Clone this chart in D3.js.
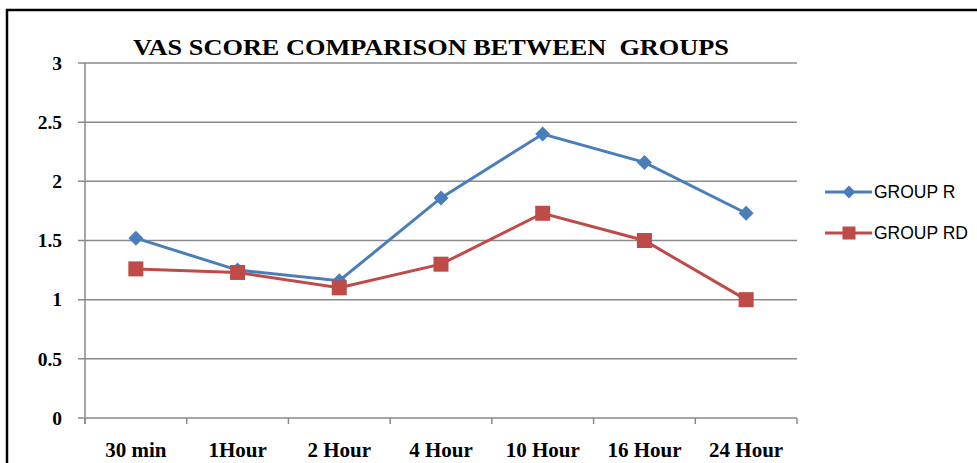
<!DOCTYPE html>
<html>
<head>
<meta charset="utf-8">
<script src="https://cdn.jsdelivr.net/npm/d3@7"></script>
<style>
  html, body { margin: 0; padding: 0; background: #fff; }
  svg { display: block; }
</style>
</head>
<body>
<svg id="chart" width="977" height="463"></svg>
<script>
const title = "VAS SCORE COMPARISON BETWEEN  GROUPS";
const categories = ["30 min", "1Hour", "2 Hour", "4 Hour", "10 Hour", "16 Hour", "24 Hour"];
const groupR = [1.52, 1.25, 1.16, 1.86, 2.40, 2.16, 1.73];
const groupRD = [1.26, 1.23, 1.10, 1.30, 1.73, 1.50, 1.00];
const yTicks = [0, 0.5, 1, 1.5, 2, 2.5, 3];
const seriesNames = ["GROUP R", "GROUP RD"];
const colors = ["#4A7EBB", "#BE4B48"];

(function () {
const svg = d3.select("#chart");

// outer frame
svg.append("rect").attr("x", 7).attr("y", 10).attr("width", 980).attr("height", 470)
  .attr("fill", "none").attr("stroke", "#000").attr("stroke-width", 2.5);

const pLeft = 85, pRight = 797, pTop = 63, pBottom = 418;
const x = d3.scaleBand().domain(categories).range([pLeft, pRight]);
const y = d3.scaleLinear().domain([0, 3]).range([pBottom, pTop]);

// gridlines
svg.append("g").selectAll("line").data(yTicks).join("line")
  .attr("x1", pLeft - 7).attr("x2", pRight)
  .attr("y1", d => y(d)).attr("y2", d => y(d))
  .attr("stroke", "#8a8a8a").attr("stroke-width", 1.5);

// y axis line
svg.append("line").attr("x1", pLeft).attr("x2", pLeft).attr("y1", pTop).attr("y2", pBottom + 6)
  .attr("stroke", "#8a8a8a").attr("stroke-width", 1.5);

// x ticks
const bounds = categories.map(c => x(c)).concat([pRight]);
svg.append("g").selectAll("line").data(bounds).join("line")
  .attr("x1", d => d).attr("x2", d => d)
  .attr("y1", pBottom).attr("y2", pBottom + 6)
  .attr("stroke", "#8a8a8a").attr("stroke-width", 1.5);

// y labels
svg.append("g").selectAll("text").data(yTicks).join("text")
  .attr("x", 62).attr("y", d => y(d)).attr("dy", "0.35em")
  .attr("text-anchor", "end")
  .attr("font-family", "Liberation Serif, Times New Roman, serif")
  .attr("font-weight", "bold").attr("font-size", 19.5).attr("fill", "#000")
  .text(d => d);

// x labels
svg.append("g").selectAll("text").data(categories).join("text")
  .attr("x", d => x(d) + x.bandwidth() / 2).attr("y", 457)
  .attr("text-anchor", "middle")
  .attr("font-family", "Liberation Serif, Times New Roman, serif")
  .attr("font-weight", "bold").attr("font-size", 21).attr("fill", "#000")
  .text(d => d);

// title
svg.append("text").attr("x", 133).attr("y", 55)
  .attr("font-family", "Liberation Serif, Times New Roman, serif")
  .attr("font-weight", "bold").attr("font-size", 24).attr("fill", "#000")
  .attr("textLength", 596).attr("lengthAdjust", "spacingAndGlyphs")
  .style("white-space", "pre")
  .text(title);

const line = d3.line().x((d, i) => x(categories[i]) + x.bandwidth() / 2).y(d => y(d));

function drawSeries(vals, color, marker) {
  svg.append("path").datum(vals).attr("d", line)
    .attr("fill", "none").attr("stroke", color).attr("stroke-width", 3);
  const g = svg.append("g");
  if (marker === "diamond") {
    g.selectAll("path").data(vals).join("path")
      .attr("transform", (d, i) => `translate(${x(categories[i]) + x.bandwidth() / 2},${y(d)})`)
      .attr("d", "M0,-7.5L7.5,0L0,7.5L-7.5,0Z").attr("fill", color);
  } else {
    g.selectAll("rect").data(vals).join("rect")
      .attr("x", (d, i) => x(categories[i]) + x.bandwidth() / 2 - 7.5)
      .attr("y", d => y(d) - 7.5).attr("width", 15).attr("height", 15).attr("fill", color);
  }
}
drawSeries(groupR, colors[0], "diamond");
drawSeries(groupRD, colors[1], "square");

// legend
const legY = [192, 233];
seriesNames.forEach((name, i) => {
  const g = svg.append("g");
  g.append("line").attr("x1", 825).attr("x2", 872).attr("y1", legY[i]).attr("y2", legY[i])
    .attr("stroke", colors[i]).attr("stroke-width", 3);
  if (i === 0) {
    g.append("path").attr("transform", `translate(849,${legY[i]})`)
      .attr("d", "M0,-6.5L6.5,0L0,6.5L-6.5,0Z").attr("fill", colors[i]);
  } else {
    g.append("rect").attr("x", 842.5).attr("y", legY[i] - 6.5).attr("width", 13).attr("height", 13)
      .attr("fill", colors[i]);
  }
  g.append("text").attr("x", 874).attr("y", legY[i]).attr("dy", "0.35em")
    .attr("font-family", "Liberation Sans, Arial, sans-serif")
    .attr("font-size", 17.5).attr("fill", "#000")
    .text(name);
});
})();
</script>
</body>
</html>
